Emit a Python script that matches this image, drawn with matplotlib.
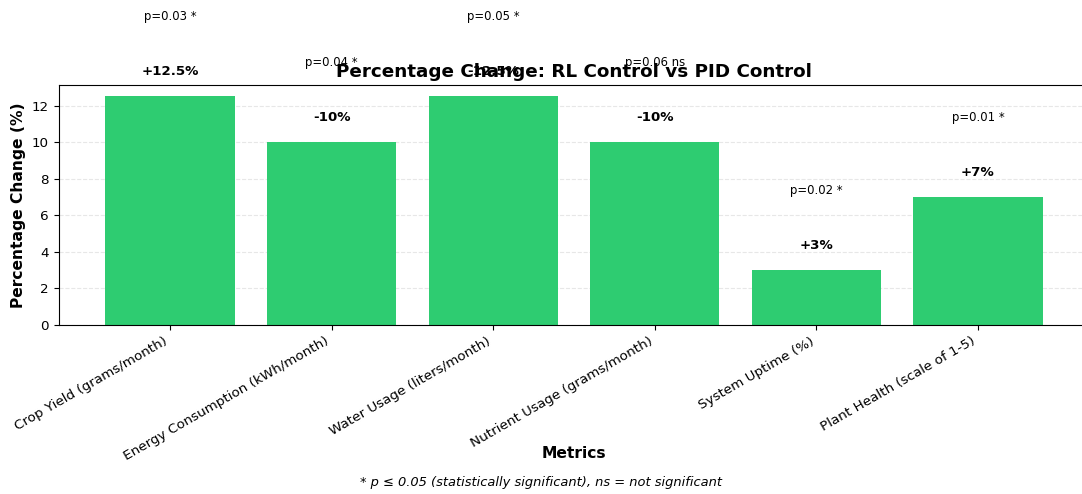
import matplotlib.pyplot as plt

metrics = ["Crop Yield (grams/month)", "Energy Consumption (kWh/month)",
           "Water Usage (liters/month)", "Nutrient Usage (grams/month)",
           "System Uptime (%)", "Plant Health (scale of 1-5)"]
pct_change = [12.5, -10, -12.5, -10, 3, 7]
p_values = [0.03, 0.04, 0.05, 0.06, 0.02, 0.01]

heights = [abs(v) for v in pct_change]

fig = plt.figure(figsize=(10.82, 4.94), dpi=100)
ax = fig.add_axes([58.5 / 1082, 169 / 494, 1031 / 1082, 240 / 494])

x = range(len(metrics))
bars = ax.bar(x, heights, width=0.8, color="#2ecc71")

for bar, change, p in zip(bars, pct_change, p_values):
    cx = bar.get_x() + bar.get_width() / 2
    h = bar.get_height()
    ax.text(cx, h + 1, f"{change:+g}%", ha="center", va="bottom",
            fontsize=9.6, fontweight="bold")
    sig = "*" if p <= 0.05 else "ns"
    ax.text(cx, h + 4, f"p={p:.2f} {sig}", ha="center", va="bottom", fontsize=8.4)

ax.set_xticks(list(x))
ax.set_xticklabels(metrics, rotation=30, ha="right", fontsize=9.7)
ax.tick_params(axis="y", labelsize=9.7)
ax.set_ylabel("Percentage Change (%)", fontsize=11.2, fontweight="bold")
ax.set_xlabel("Metrics", fontsize=11.2, fontweight="bold")
ax.xaxis.set_label_coords(0.5, -0.505)
ax.set_title("Percentage Change: RL Control vs PID Control", fontsize=13.2, fontweight="bold")
ax.grid(axis="y", linestyle="--", alpha=0.3)
ax.set_axisbelow(True)

fig.text(0.5, 0.024, "* p ≤ 0.05 (statistically significant), ns = not significant",
         ha="center", va="center", fontsize=9.4, style="italic")

fig.savefig("out.png", dpi=100)
